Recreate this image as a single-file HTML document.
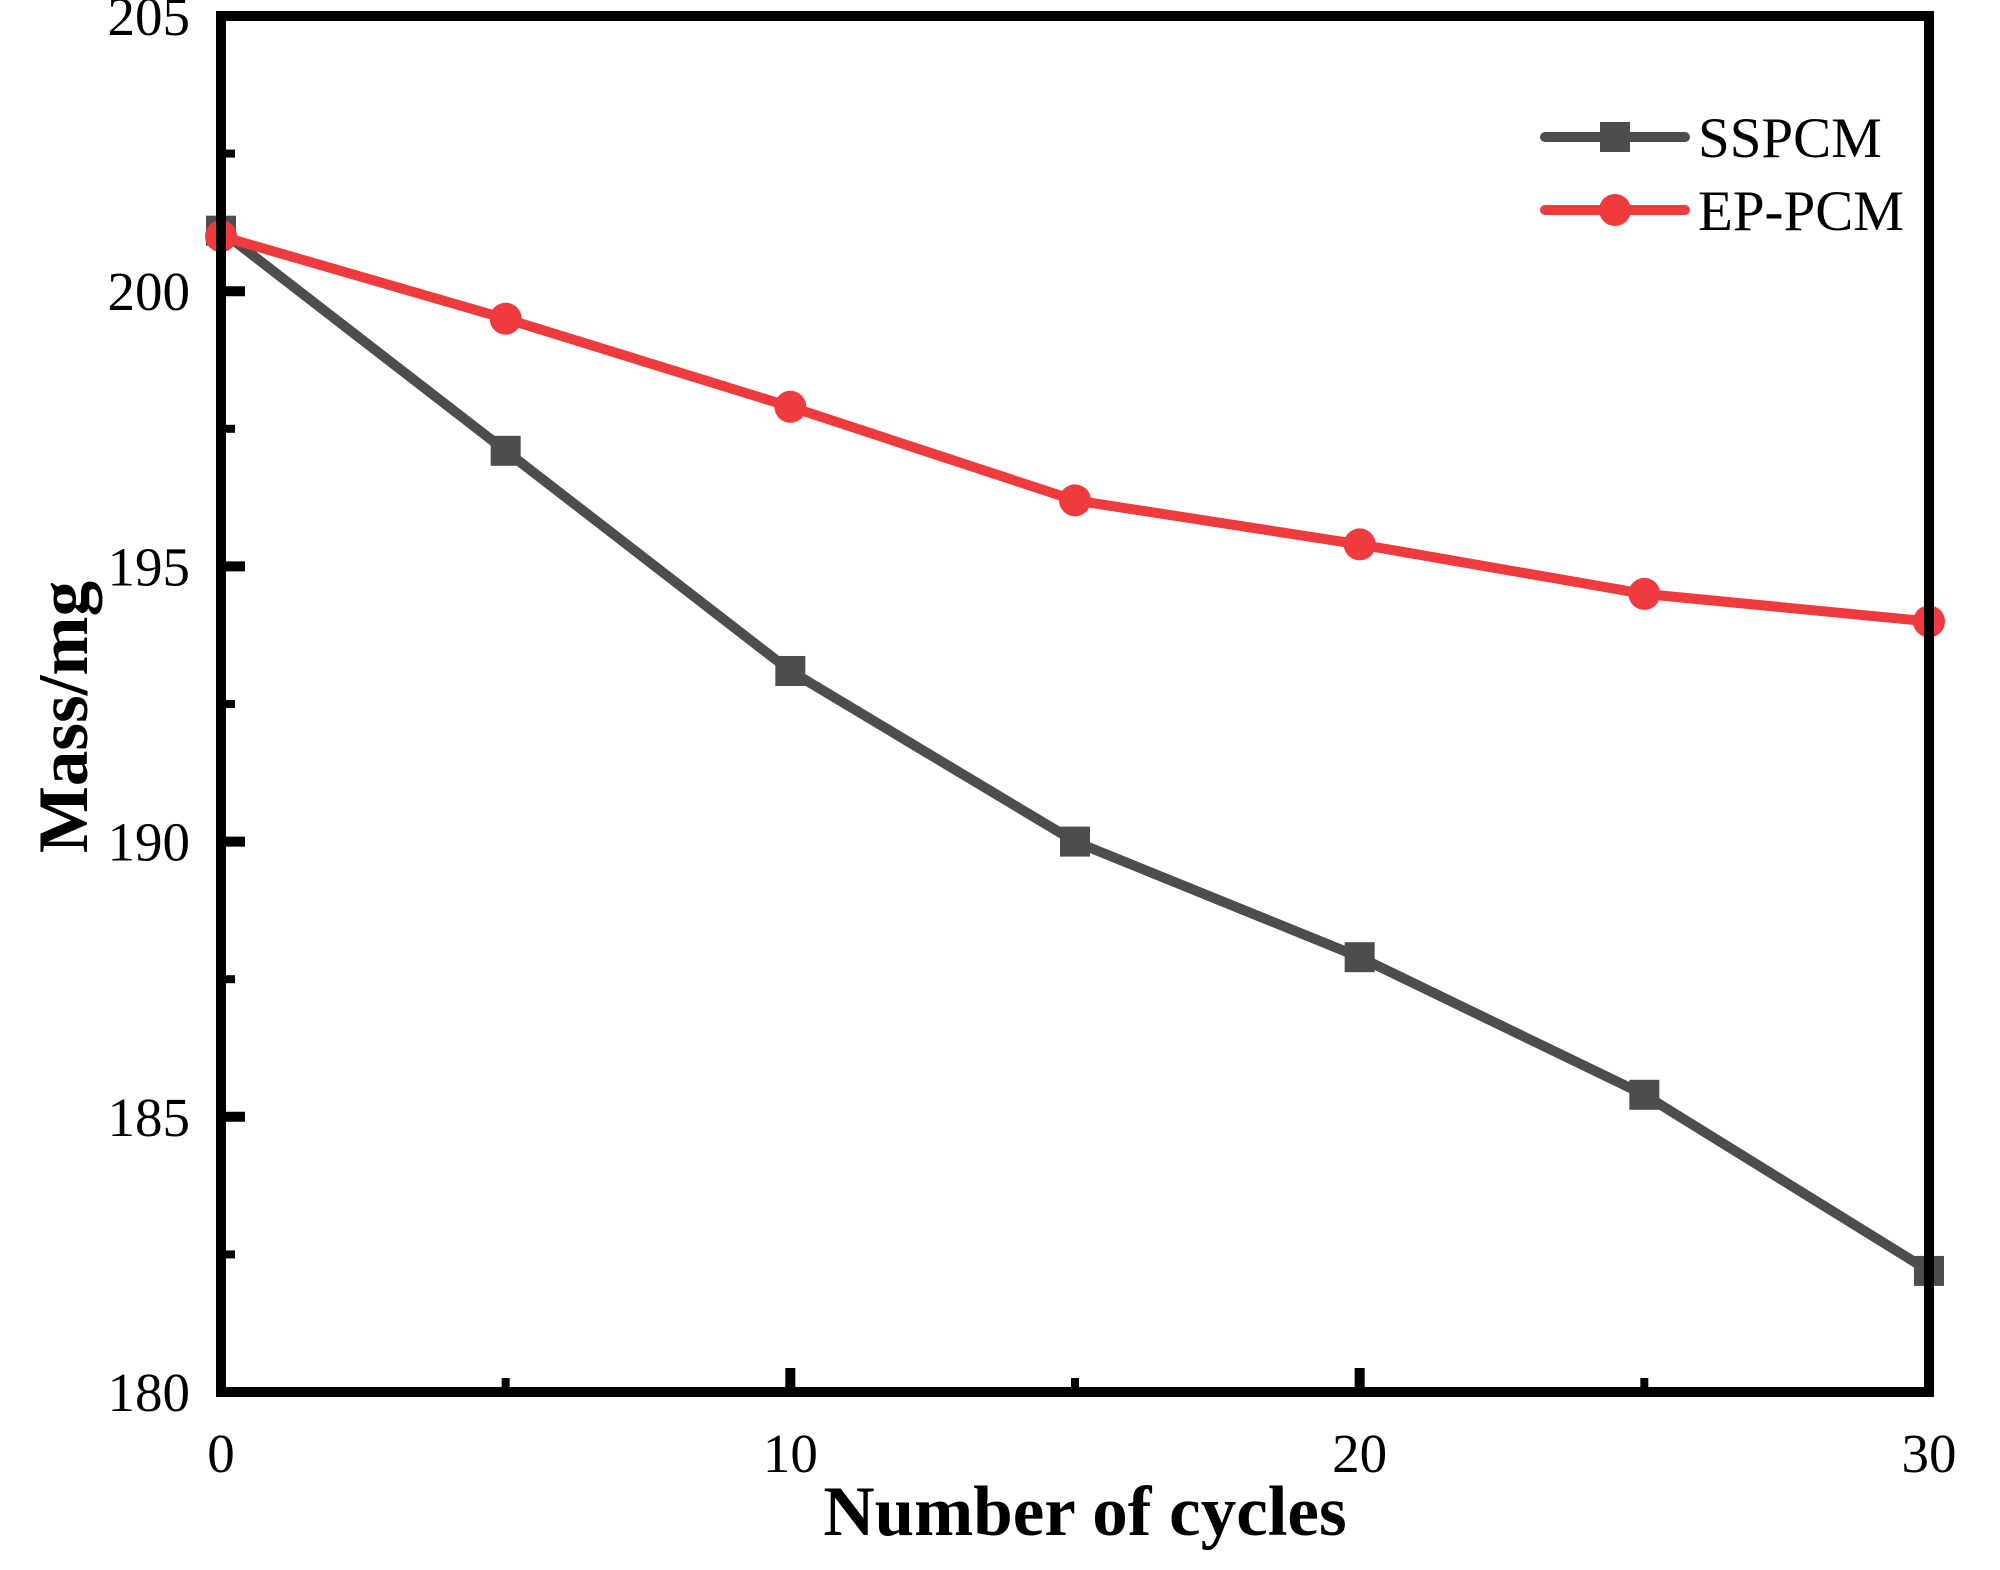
<!DOCTYPE html>
<html><head><meta charset="utf-8"><style>
html,body{margin:0;padding:0;background:#fff;}
svg{display:block;font-family:"Liberation Serif",serif;}
</style></head><body>
<svg id="chart" width="2000" height="1570" viewBox="0 0 2000 1570" xmlns="http://www.w3.org/2000/svg">
<g id="grid"></g>
<g id="series"></g>
<rect x="221" y="16" width="1708" height="1376" fill="none" stroke="#000" stroke-width="10"/>
<g id="legend">
 <g>
  <line x1="1545" y1="137" x2="1685" y2="137" stroke="#4d4d4d" stroke-width="10" stroke-linecap="round"/>
  <rect x="1600" y="122" width="30" height="30" fill="#4d4d4d"/>
  <text x="1698" y="157" font-size="57" fill="#000">SSPCM</text>
 </g>
 <g>
  <line x1="1545" y1="210" x2="1685" y2="210" stroke="#ef3b3e" stroke-width="10" stroke-linecap="round"/>
  <circle cx="1615" cy="210" r="16" fill="#ef3b3e"/>
  <text x="1698" y="230" font-size="57" fill="#000">EP-PCM</text>
 </g>
</g>
<text x="1085" y="1535" font-size="71" font-weight="bold" text-anchor="middle">Number of cycles</text>
<text transform="translate(87,717) rotate(-90)" font-size="71" font-weight="bold" text-anchor="middle">Mass/mg</text>
</svg>
<script>
const cycles = [0, 5, 10, 15, 20, 25, 30];
const sspcm = [201.1, 197.1, 193.1, 190.0, 187.9, 185.4, 182.2];
const eppcm = [201.0, 199.5, 197.9, 196.2, 195.4, 194.5, 194.0];
const xTicks = [0, 10, 20, 30];
const xMinor = [5, 15, 25];
const yTicks = [180, 185, 190, 195, 200, 205];
const yMinor = [182.5, 187.5, 192.5, 197.5, 202.5];

const X0=221, X1=1929, Y0=1392, Y1=16;
function sx(v){return X0+(v-0)/(30-0)*(X1-X0);}
function sy(v){return Y0-(v-180)/(205-180)*(Y0-Y1);}
const NS="http://www.w3.org/2000/svg";
const g=document.getElementById('grid'), s=document.getElementById('series');
function mk(tag,attrs,parent){const e=document.createElementNS(NS,tag);for(const k in attrs)e.setAttribute(k,attrs[k]);parent.appendChild(e);return e;}

yTicks.forEach(v=>{
  const t=mk('line',{x1:X0,x2:X0+24,y1:sy(v),y2:sy(v),stroke:'#000','stroke-width':10},g);
  
  
  const l=mk('text',{x:190,y:sy(v)+19,'font-size':55,'text-anchor':'end'},g);
  l.textContent=v;
  
  
});
yMinor.forEach(v=>{
  const t=mk('line',{x1:X0,x2:X0+14,y1:sy(v),y2:sy(v),stroke:'#000','stroke-width':8},g);
  
  
});
xTicks.forEach(v=>{
  const t=mk('line',{x1:sx(v),x2:sx(v),y1:Y0,y2:Y0-24,stroke:'#000','stroke-width':10},g);
  
  
  const l=mk('text',{x:sx(v),y:1472,'font-size':55,'text-anchor':'middle'},g);
  l.textContent=v;
  
  
});
xMinor.forEach(v=>{
  const t=mk('line',{x1:sx(v),x2:sx(v),y1:Y0,y2:Y0-14,stroke:'#000','stroke-width':8},g);
  
  
});

function draw(vals,color,shape,name){
  const pts=cycles.map((c,i)=>sx(c)+','+sy(vals[i])).join(' ');
  const pl=mk('polyline',{points:pts,fill:'none',stroke:color,'stroke-width':10,'stroke-linejoin':'round'},s);
  
  
  cycles.forEach((c,i)=>{
    let m;
    if(shape==='square') m=mk('rect',{x:sx(c)-15,y:sy(vals[i])-15,width:30,height:30,fill:color},s);
    else m=mk('circle',{cx:sx(c),cy:sy(vals[i]),r:16,fill:color},s);
    
    
  });
}
draw(sspcm,'#4d4d4d','square','sspcm');
draw(eppcm,'#ef3b3e','circle','ep-pcm');
</script>
</body></html>
